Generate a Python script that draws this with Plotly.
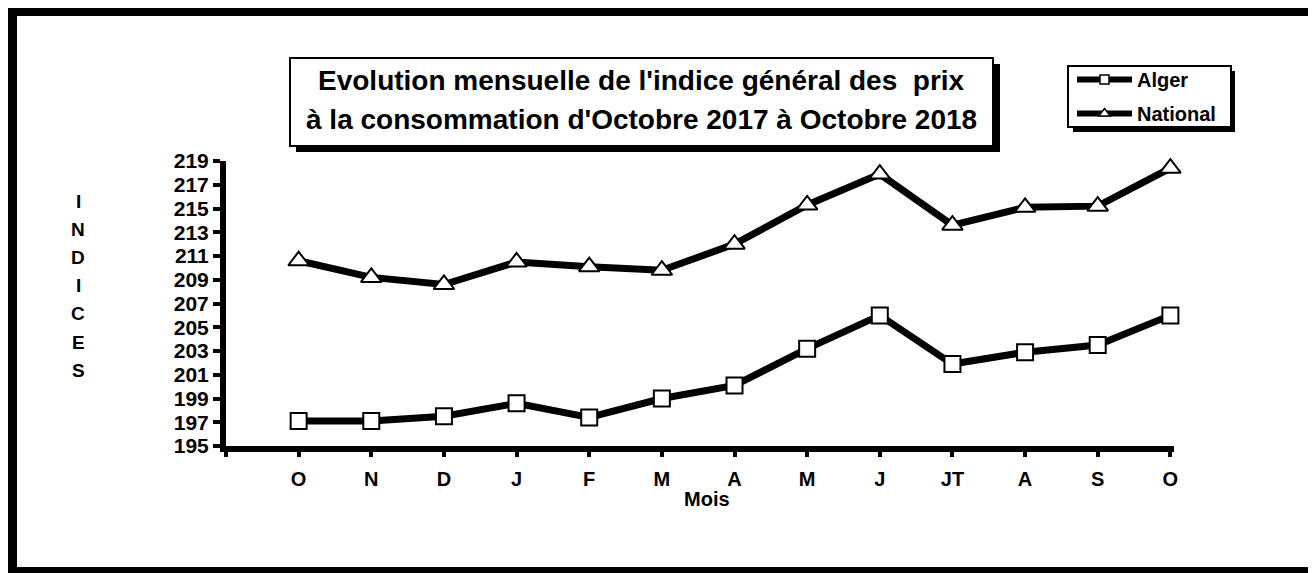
import plotly.graph_objects as go

# ---- data ----
months = ["O", "N", "D", "J", "F", "M", "A", "M", "J", "JT", "A", "S", "O"]
alger = [197.1, 197.1, 197.5, 198.6, 197.4, 199.0, 200.1, 203.2, 206.0, 201.9, 202.9, 203.5, 206.0]
national = [210.6, 209.2, 208.6, 210.5, 210.1, 209.8, 212.0, 215.3, 217.9, 213.6, 215.1, 215.2, 218.4]
series_names = ["Alger", "National"]
title_lines = ["Evolution mensuelle de l'indice général des  prix",
               "à la consommation d'Octobre 2017 à Octobre 2018"]
y_title = "INDICES"
x_title = "Mois"

# ---- geometry (pixels, figure coordinates; page body adds an 8px offset) ----
OFF = 8
W, H = 1316 - OFF, 573 - OFF
L, R, T, B = 226 - OFF, 1174 - OFF, 161 - OFF, 446 - OFF
FONT = "Liberation Sans, Arial, sans-serif"


def px(x):
    # x given in reference-window pixels
    return (x - OFF - L) / (R - L)


def py(y):
    return (B - (y - OFF)) / (B - T)


idx = list(range(len(months)))

fig = go.Figure()

fig.add_trace(go.Scatter(
    x=idx, y=alger, mode="lines+markers", showlegend=False, name=series_names[0],
    line=dict(color="black", width=7), cliponaxis=False,
    marker=dict(symbol="square", size=16, color="white", line=dict(color="black", width=2)),
))
fig.add_trace(go.Scatter(
    x=idx, y=national, mode="lines+markers", showlegend=False, name=series_names[1],
    line=dict(color="black", width=7), cliponaxis=False,
    marker=dict(symbol="triangle-up", size=18, color="white", line=dict(color="black", width=2)),
))
# legend entries
fig.add_trace(go.Scatter(
    x=[None], y=[None], mode="lines+markers", name=series_names[0], legendgroup="a",
    line=dict(color="black", width=6),
    marker=dict(symbol="square", size=9, color="white", line=dict(color="black", width=1.5)),
))
fig.add_trace(go.Scatter(
    x=[None], y=[None], mode="lines+markers", name=series_names[1], legendgroup="b",
    line=dict(color="black", width=6),
    marker=dict(symbol="triangle-up", size=10, color="white", line=dict(color="black", width=1.5)),
))

shapes = []
# outer frame
shapes.append(dict(type="rect", xref="paper", yref="paper",
                   x0=px(12.5), x1=px(1317.5), y0=py(11.5), y1=py(571.5),
                   line=dict(color="black", width=9), fillcolor="rgba(0,0,0,0)", layer="above"))
# title box shadow + box
shapes.append(dict(type="rect", xref="paper", yref="paper",
                   x0=px(296), x1=px(1000), y0=py(64), y1=py(152),
                   line=dict(width=0), fillcolor="black", layer="above"))
shapes.append(dict(type="rect", xref="paper", yref="paper",
                   x0=px(290), x1=px(993), y0=py(58), y1=py(146),
                   line=dict(color="black", width=2), fillcolor="white", layer="above"))
# legend box shadow + box
shapes.append(dict(type="rect", xref="paper", yref="paper",
                   x0=px(1073), x1=px(1235), y0=py(71), y1=py(132),
                   line=dict(width=0), fillcolor="black", layer="below"))
shapes.append(dict(type="rect", xref="paper", yref="paper",
                   x0=px(1068), x1=px(1231), y0=py(66), y1=py(127),
                   line=dict(color="black", width=2), fillcolor="white", layer="below"))

annotations = []
for i, line in enumerate(title_lines):
    annotations.append(dict(text=line, xref="paper", yref="paper", x=px(641), y=py(80 + 39 * i),
                            showarrow=False, xanchor="center", yanchor="middle",
                            font=dict(family=FONT, size=28, color="black", weight="bold")))
for i, ch in enumerate(y_title):
    annotations.append(dict(text=ch, xref="paper", yref="paper", x=px(78), y=py(201 + 28.2 * i),
                            showarrow=False, xanchor="center", yanchor="middle",
                            font=dict(family=FONT, size=19, color="black", weight="bold")))
annotations.append(dict(text=x_title, xref="paper", yref="paper", x=px(707), y=py(499),
                        showarrow=False, xanchor="center", yanchor="middle",
                        font=dict(family=FONT, size=20, color="black", weight="bold")))

fig.update_layout(
    width=W, height=H,
    margin=dict(l=L, r=W - R, t=T, b=H - B, autoexpand=False),
    paper_bgcolor="white", plot_bgcolor="white",
    font=dict(family=FONT, color="black"),
    shapes=shapes, annotations=annotations,
    legend=dict(x=px(1072), y=py(60), xanchor="left", yanchor="top",
                bgcolor="rgba(0,0,0,0)", borderwidth=0, tracegroupgap=5,
                traceorder="grouped", itemwidth=55,
                font=dict(family=FONT, size=20, color="black", weight="bold")),
)

fig.update_xaxes(
    range=[-1, 12.05], tickvals=[-1] + idx, ticktext=[""] + months,
    showline=True, linecolor="black", linewidth=6, showgrid=False, zeroline=False,
    ticks="outside", ticklen=5, tickwidth=4, tickcolor="black",
    ticklabelstandoff=5,
    tickfont=dict(family=FONT, size=20, color="black", weight="bold"),
)
fig.update_yaxes(
    range=[195, 219], dtick=2, tick0=195,
    showline=True, linecolor="black", linewidth=6, showgrid=False, zeroline=False,
    ticks="outside", ticklen=7, tickwidth=4, tickcolor="black",
    ticklabelstandoff=0,
    tickfont=dict(family=FONT, size=21, color="black", weight="bold"),
)

fig.write_html("out.html")
